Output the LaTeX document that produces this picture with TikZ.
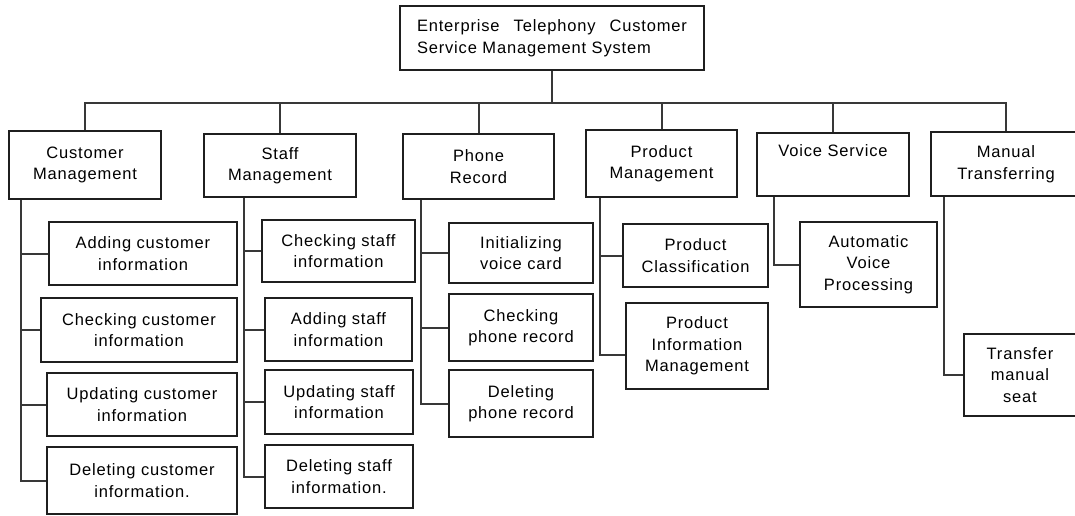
\documentclass[tikz,border=0pt]{standalone}
\usepackage{fontspec}
\setmainfont{Liberation Sans}[LetterSpace=5]

\begin{document}
\begin{tikzpicture}[
  x=1pt, y=-1pt,
  font=\fontsize{16.5pt}{21.5pt}\selectfont,
  box/.style={draw=black!88, line width=1.5pt, align=center, inner sep=0pt},
  sz/.style n args={2}{minimum width=#1pt, minimum height=#2pt},
  link/.style={draw=black!78, line width=2pt},
]
\useasboundingbox[fill=white] (0,0) rectangle (1075,515);

\node[box, sz={304}{64}, text width=270pt, align=left] (ES) at (552,38)
  {Enterprise\hfill Telephony\hfill Customer\\ Service Management System};

\node[box, sz={152}{68}] (CM) at (85,165) {Customer\\Management};
\node[box, sz={152}{63}] (SM) at (280,165.5) {Staff\\Management};
\node[box, sz={151}{65}] (PR) at (478.5,166.5) {Phone\\Record};
\node[box, sz={151}{67}] (PM) at (661.5,163.5) {Product\\Management};
\node[box, sz={152}{63}] (VS) at (833,164.5) {Voice Service\\ \strut};
\node[box, sz={150}{64}] (MT) at (1006,164) {Manual\\Transferring};

\node[box, sz={188}{63}] (AC) at (143,253.5) {Adding customer\\information};
\node[box, sz={196}{64}] (CC) at (139,330) {Checking customer\\information};
\node[box, sz={190}{63}] (UC) at (142,404.5) {Updating customer\\information};
\node[box, sz={190}{67}] (DC) at (142,480.5) {Deleting customer\\information.};

\node[box, sz={153}{62}] (CS) at (338.5,251) {Checking staff\\information};
\node[box, sz={147}{63}] (AS) at (338.5,329.5) {Adding staff\\information};
\node[box, sz={148}{64}] (US) at (339,402) {Updating staff\\information};
\node[box, sz={148}{63}] (DS) at (339,476.5) {Deleting staff\\information.};

\node[box, sz={144}{60}] (IV) at (521,253) {Initializing\\voice card};
\node[box, sz={144}{67}] (CP) at (521,327.5) {Checking\\phone record};
\node[box, sz={144}{67}] (DP) at (521,403.5) {Deleting\\phone record};

\node[box, sz={145}{63}] (PC) at (695.5,255.5) {Product\\Classification};
\node[box, sz={142}{86}] (PI) at (697,346) {Product\\Information\\Management};

\node[box, sz={137}{85}] (AV) at (868.5,264.5) {Automatic\\Voice\\Processing};

\node[box, sz={112}{82}] (TS) at (1020,375) {Transfer\\manual\\seat};

\foreach \n in {CM,SM,PR,PM,VS,MT}
  \draw[link] (ES.south) -- ++(0,32) -| (\n.north);

\coordinate (cmT) at ([xshift=13pt]CM.south west);
\coordinate (smT) at ([xshift=41pt]SM.south west);
\coordinate (prT) at ([xshift=19pt]PR.south west);
\coordinate (pmT) at ([xshift=15pt]PM.south west);
\coordinate (vsT) at ([xshift=18pt]VS.south west);
\coordinate (mtT) at ([xshift=14pt]MT.south west);

\foreach \c in {AC,CC,UC,DC}
  \draw[link] (cmT) |- (\c.west);
\foreach \c in {CS,AS,US,DS}
  \draw[link] (smT) |- (\c.west);
\foreach \c in {IV,CP,DP}
  \draw[link] (prT) |- (\c.west);
\draw[link] (pmT) |- (PC.west);
\draw[link] (pmT) |- ([yshift=-9pt]PI.west);
\draw[link] (vsT) |- (AV.west);
\draw[link] (mtT) |- (TS.west);

\end{tikzpicture}
\end{document}
